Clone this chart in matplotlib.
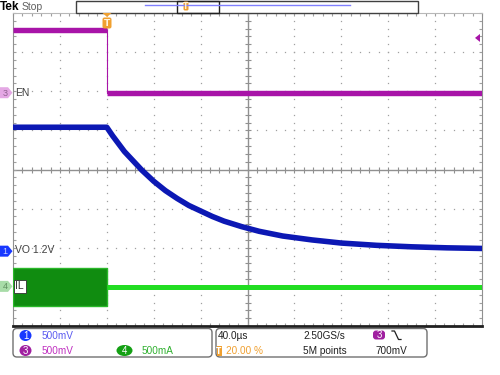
# Scope capture: EN / VO / IL at shutdown

import numpy as np
import matplotlib.pyplot as plt
from matplotlib.patches import Rectangle, FancyBboxPatch, Polygon, Ellipse

# scope settings
t_div = 40.0            # us/div
t_left = -80.0          # trigger at 20 %
ch1_scale, ch1_offset = 0.5, -2.1   # V/div, div
ch3_scale, ch3_offset = 0.5, 1.95
ch4_scale, ch4_offset = 0.5, -3.0
trig_level = 0.7

# CH3 EN (V)
en_t = [-80, 0, 0, 320]
en_v = [0.81, 0.81, 0.0, 0.0]

# CH1 VO (V)
vo_t = [-80, 0, 5, 10, 15, 20, 30, 40, 50, 60, 70, 80, 90, 100, 115, 130,
        150, 175, 200, 230, 260, 290, 320]
vo_v = [1.59, 1.59, 1.48, 1.38, 1.28, 1.20, 1.04, 0.90, 0.78, 0.68, 0.59, 0.52,
        0.45, 0.39, 0.32, 0.26, 0.20, 0.15, 0.11, 0.081, 0.062, 0.049, 0.041]

# CH4 IL (A): switching ripple envelope before, then idle
il_sw_t = [-80, 0.5]
il_sw_hi = [0.245, 0.245]
il_sw_lo = [-0.24, -0.24]
il_t = [0.5, 320]
il_a = [0.0, 0.0]

blue = '#0c18b4'
magenta = '#a814a8'
green = '#22dd22'
dkgreen = '#108c10'
orange = '#f0a030'
grid_c = '#a0a0a0'
font = ['Liberation Sans', 'DejaVu Sans']
fs = 7.2

fig = plt.figure(figsize=(5, 3.75), dpi=100)
ax = fig.add_axes([13/500, 49/375, 469/500, 313/375])
ax.set_xlim(t_left, t_left + 10*t_div)
ax.set_ylim(-4, 4)

# graticule dots
xs = np.arange(t_left, t_left + 10*t_div + 0.1, t_div/5)
ys = np.arange(-4, 4.01, 0.2)
for i in range(1, 10):
    if i == 5:
        continue
    x = t_left + i*t_div
    ax.plot([x]*len(ys), ys, ls='none', marker='s', ms=0.9, mew=0, color=grid_c, zorder=1)
for j in range(-3, 4):
    if j == 0:
        continue
    ax.plot(xs, [j]*len(xs), ls='none', marker='s', ms=0.9, mew=0, color=grid_c, zorder=1)

# center crosshair with ticks
xc = t_left + 5*t_div
ax.axhline(0, color='#909090', lw=1, zorder=1)
ax.axvline(xc, color='#909090', lw=1, zorder=1)
ax.plot(xs, np.zeros(len(xs)), ls='none', marker='|', ms=4.5, mew=0.8, color='#909090', zorder=1)
ax.plot([xc]*len(ys), ys, ls='none', marker='_', ms=4.5, mew=0.8, color='#909090', zorder=1)

# border ticks
ax.set_xticks(np.arange(t_left, t_left + 10*t_div + 0.1, t_div))
ax.set_xticks(xs, minor=True)
ax.set_yticks(np.arange(-4, 5, 1))
ax.set_yticks(ys, minor=True)
ax.tick_params(which='both', direction='in', length=2.5, width=0.8, color='#a0a0a0',
               top=True, right=True, labelbottom=False, labelleft=False)
for s in ['left', 'right']:
    ax.spines[s].set_color('#909090')
ax.spines['top'].set_color('#b8b8b8')
ax.spines['top'].set_linewidth(0.8)
ax.spines['bottom'].set_color('#202020')
ax.spines['bottom'].set_linewidth(2)

# traces
en_y = np.array(en_v)/ch3_scale + ch3_offset
ax.plot(en_t[:2], en_y[:2], color=magenta, lw=3.9, zorder=3, solid_capstyle='butt')
ax.plot(en_t[2:], en_y[2:], color=magenta, lw=3.9, zorder=3, solid_capstyle='butt')
ax.plot(en_t[1:3], en_y[1:3], color=magenta, lw=0.8, zorder=3)
ax.plot(vo_t, np.array(vo_v)/ch1_scale + ch1_offset, color=blue, lw=4.0, zorder=3)
ax.fill_between(il_sw_t, np.array(il_sw_lo)/ch4_scale + ch4_offset,
                np.array(il_sw_hi)/ch4_scale + ch4_offset,
                facecolor=dkgreen, edgecolor='#2ab82a', lw=1, zorder=3)
ax.plot(il_t, np.array(il_a)/ch4_scale + ch4_offset, color=green, lw=3.6, zorder=3,
        solid_capstyle='butt')

# overlay in pixel coordinates
ov = fig.add_axes([0, 0, 1, 1], zorder=5)
ov.set_xlim(0, 500)
ov.set_ylim(375, 0)
ov.axis('off')
ov.patch.set_alpha(0)

# header
ov.text(0, 7, 'Tek', fontsize=8.5, fontweight='bold', va='center', ha='left', family=font)
ov.text(22, 7, 'Stop', fontsize=7.5, color='#606060', va='center', ha='left', family=font)
ov.add_patch(Rectangle((76, 0.5), 342, 12, fc='white', ec='#404040', lw=1))
ov.plot([145, 350], [5.3, 5.3], color='#8080ff', lw=1)
ov.add_patch(Rectangle((177, 0.5), 42, 12, fc='none', ec='#202020', lw=1))
ov.add_patch(FancyBboxPatch((183.5, 1.5), 5, 9, boxstyle='round,pad=0,rounding_size=1.5',
                            fc=orange, ec='none'))
ov.text(186, 6.5, 'T', fontsize=5.5, color='#fff0d0', ha='center', va='center', fontweight='bold')

# trigger position marker
ov.add_patch(Polygon([(102.5, 13), (111.5, 13), (107, 17)], fc=orange, ec='none'))
ov.add_patch(FancyBboxPatch((102.5, 17.5), 9, 11, boxstyle='round,pad=0,rounding_size=2',
                            fc=orange, ec='none'))
ov.text(107, 23, 'T', fontsize=6.5, color='#fff4e0', ha='center', va='center', fontweight='bold')


def ypix(div):
    return 169 - div*313/8


# trigger level marker
y_trig = ypix(trig_level/ch3_scale + ch3_offset)
ov.add_patch(Polygon([(475, y_trig), (480, y_trig - 4), (480, y_trig + 4)], fc=magenta, ec='none'))


# channel ground markers
def marker(y, fc, tc, num):
    ov.add_patch(Polygon([(0, y-5.5), (8, y-5.5), (12.5, y), (8, y+5.5), (0, y+5.5)],
                         fc=fc, ec='none'))
    ov.text(5, y + 0.5, num, fontsize=6.5, color=tc, ha='center', va='center', family=font)


marker(ypix(ch1_offset), '#1838ff', '#c8d0ff', '1')
marker(ypix(ch3_offset), '#e4a8e4', '#906090', '3')
marker(ypix(ch4_offset), '#a8dca8', '#609060', '4')

ov.text(15, ypix(ch3_offset), 'EN', fontsize=7.5, color='#404040', va='center', family=font)
ov.text(15, ypix(ch1_offset) - 1, 'VO 1.2V', fontsize=7.5, color='#404040', va='center', family=font)
ov.text(15.5, ypix(ch4_offset), 'IL', fontsize=7.5, color='#303030', va='center', family=font,
        bbox=dict(boxstyle='square,pad=0.15', fc='white', ec='#303030', lw=0.6))

# bottom readout boxes
ov.add_patch(FancyBboxPatch((13, 328.5), 199, 28.5, boxstyle='round,pad=0,rounding_size=4',
                            fc='white', ec='#707070', lw=1))
ov.add_patch(FancyBboxPatch((216, 328.5), 211, 28.5, boxstyle='round,pad=0,rounding_size=4',
                            fc='white', ec='#707070', lw=1))

ov.add_patch(Ellipse((25.5, 335.5), 12, 11, fc='#1838ff', ec='none'))
ov.text(25.5, 336, '1', fontsize=7, color='white', ha='center', va='center', family=font)
ov.add_patch(Ellipse((25.5, 350.5), 12, 11, fc='#a020a0', ec='none'))
ov.text(25.5, 351, '3', fontsize=7, color='white', ha='center', va='center', family=font)
ov.add_patch(Ellipse((124.5, 350.5), 16, 11, fc='#14a014', ec='none'))
ov.text(124.5, 351, '4', fontsize=7, color='white', ha='center', va='center', family=font)

ov.text(42, 336, '500mV', fontsize=fs, color='#5a5af0', va='center', family=font)
ov.text(42, 351, '500mV', fontsize=fs, color='#c030c0', va='center', family=font)
ov.text(142, 351, '500mA', fontsize=fs, color='#30b030', va='center', family=font)

ov.text(218, 336, '40.0µs', fontsize=fs, color='#202020', va='center', family=font)
ov.add_patch(Rectangle((216.5, 346), 5, 9.5, fc=orange, ec='none'))
ov.text(219, 351, 'T', fontsize=5.5, color='white', ha='center', va='center', fontweight='bold')
ov.text(226, 351, '20.00 %', fontsize=fs, color=orange, va='center', family=font)

ov.text(303, 336, '2.50GS/s', fontsize=fs, color='#202020', va='center', family=font)
ov.text(303, 351, '5M points', fontsize=fs, color='#202020', va='center', family=font)
ov.add_patch(FancyBboxPatch((373, 330.5), 12, 9, boxstyle='round,pad=0,rounding_size=3',
                            fc='#a020a0', ec='none'))
ov.text(379, 335.5, '3', fontsize=7, color='white', ha='center', va='center', family=font)
ov.plot([392, 394.5, 398.5, 401], [331, 331, 339.5, 339.5], color='#202020', lw=0.9)
ov.text(376, 351, '700mV', fontsize=fs, color='#202020', va='center', family=font)

fig.savefig('out.png', dpi=100)
